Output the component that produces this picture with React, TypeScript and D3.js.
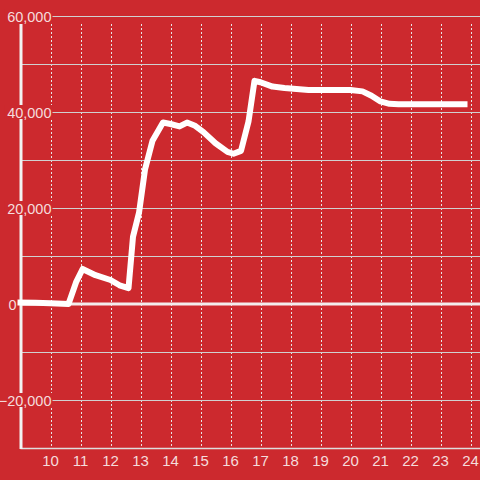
import React from "react";
import * as d3 from "d3";

const hours = [8.9, 9.5, 10.0, 10.6, 10.85, 11.07, 11.5, 12.0, 12.3, 12.6, 12.75, 12.95, 13.15, 13.4, 13.75, 14.0, 14.3, 14.55, 14.8, 15.1, 15.5, 15.9, 16.1, 16.35, 16.6, 16.8, 17.0, 17.4, 17.8, 18.2, 18.6, 19.0, 19.5, 20.0, 20.4, 20.7, 21.0, 21.3, 21.6, 22.0, 23.0, 23.9];
const values = [300, 250, 150, 0, 4500, 7300, 6000, 5000, 3900, 3300, 14000, 19000, 28000, 34000, 37800, 37500, 37000, 37800, 37200, 35800, 33500, 31700, 31300, 31900, 38000, 46500, 46200, 45300, 45000, 44800, 44600, 44600, 44600, 44600, 44300, 43400, 42200, 41700, 41600, 41600, 41600, 41600];
const xTicks = [10, 11, 12, 13, 14, 15, 16, 17, 18, 19, 20, 21, 22, 23, 24];
const yGrid = [60000, 50000, 40000, 30000, 20000, 10000, 0, -10000, -20000];
const yLabels = [60000, 40000, 20000, 0, -20000];

const BG = "#cc292e";
const TXT = "#f5dcdc";

export default function App() {
  const W = 480, H = 480;
  const x = d3.scaleLinear().domain([9, 24.3333]).range([20.5, 480.5]);
  const y = d3.scaleLinear().domain([-30000, 60000]).range([448, 16]);
  const fmt = d3.format(",");
  const line = d3.line<number>()
    .x((_, i) => x(hours[i]))
    .y((d) => y(d))
    .curve(d3.curveLinear);
  const axisX = x(9);
  return (
    <svg width={W} height={H} style={{ position: "absolute", left: 0, top: 0, display: "block" }}
      fontFamily="'Liberation Sans', Arial, sans-serif">
      <rect x={0} y={0} width={W} height={H} fill={BG} />
      {xTicks.map((t) => (
        <line key={"vx" + t} x1={Math.round(x(t)) + 0.5} x2={Math.round(x(t)) + 0.5} y1={24} y2={446}
          stroke="#e6e6e6" strokeWidth={1} strokeDasharray="2,2" />
      ))}
      {yGrid.filter((v) => v !== 0).map((v) => (
        <line key={"hy" + v} x1={axisX} x2={W} y1={Math.round(y(v)) + 0.5} y2={Math.round(y(v)) + 0.5}
          stroke="#d0d0d0" strokeWidth={1} />
      ))}
      <line x1={axisX} x2={W} y1={448.5} y2={448.5} stroke="#dedede" strokeWidth={1.5} />
      <line x1={21} x2={21} y1={24} y2={449} stroke="#f2f2f2" strokeWidth={3} />
      <line x1={22} x2={W} y1={y(0)} y2={y(0)} stroke="#f3ecec" strokeWidth={3} />
      {yLabels.map((v) => {
        const label = fmt(v);
        const w = label.length * 7.7 + 2;
        const endX = v === 0 ? 16.5 : 51.5;
        return (
          <g key={"yl" + v}>
            {v !== 0 && <rect x={endX + 1 - w} y={y(v) - 7} width={w} height={14} fill={BG} />}
            <text x={endX} y={y(v) + 5.5} textAnchor="end" fontSize={14.5} fill={TXT}>{label}</text>
          </g>
        );
      })}
      <path d={line(values) || ""} fill="none" stroke="#ffffff" strokeWidth={6} strokeLinejoin="round" />
      {xTicks.map((t) => (
        <text key={"xl" + t} x={x(t)} y={466} textAnchor="middle" fontSize={15} fill={TXT}>{t}</text>
      ))}
    </svg>
  );
}
